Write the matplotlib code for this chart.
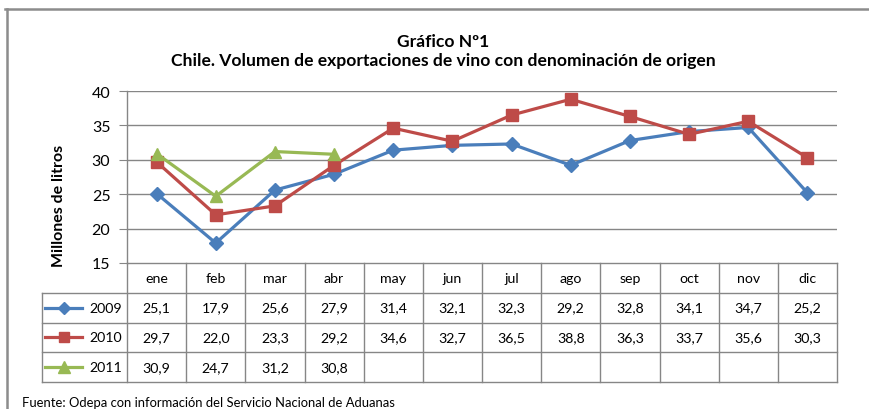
# Chile wine exports chart with Excel-style data table
import numpy as np
import matplotlib
matplotlib.use('Agg')
import matplotlib.pyplot as plt
from matplotlib.lines import Line2D

months = ['ene', 'feb', 'mar', 'abr', 'may', 'jun', 'jul', 'ago', 'sep', 'oct', 'nov', 'dic']
years = ['2009', '2010', '2011']
v2009 = [25.1, 17.9, 25.6, 27.9, 31.4, 32.1, 32.3, 29.2, 32.8, 34.1, 34.7, 25.2]
v2010 = [29.7, 22.0, 23.3, 29.2, 34.6, 32.7, 36.5, 38.8, 36.3, 33.7, 35.6, 30.3]
v2011 = [30.9, 24.7, 31.2, 30.8]
series = [v2009, v2010, v2011]

colors = ['#4A7EBB', '#BE4B48', '#98B954']
markers = ['D', 's', '^']
msizes = [7, 8, 9]
grid_col = '#868686'

plt.rcParams['font.family'] = ['Lato', 'DejaVu Sans']

W, H = 869, 410
fig = plt.figure(figsize=(W / 100, H / 100), dpi=100)

def fx(px):
    return px / W

def fy(py):
    return 1 - py / H

# pixel layout of plot area and table
left, right, top, bottom = 127, 837, 92, 264
tab_left, tab_bottom = 42, 383
colw = (right - left) / 12.0
legw = (left - tab_left) / colw

# outer frame (top and left only visible)
fig.add_artist(Line2D([fx(5), 1], [fy(10), fy(10)], color='#8c8c8c', lw=1.8))
fig.add_artist(Line2D([fx(7), fx(7)], [fy(10), 0], color='#8c8c8c', lw=1.8))

# main plot
ax = fig.add_axes((fx(left), fy(bottom), fx(right) - fx(left), fy(top) - fy(bottom)))
x = np.arange(len(months))
for vals, c, m, ms in zip(series, colors, markers, msizes):
    ax.plot(x[:len(vals)], vals, color=c, lw=2.3, marker=m, ms=ms,
            markerfacecolor=c, markeredgecolor=c, zorder=3)
ax.set_xlim(-0.5, 11.5)
ax.set_ylim(15, 40)
ax.set_yticks([15, 20, 25, 30, 35, 40])
ax.set_xticks([])
for y in [20, 25, 30, 35, 40]:
    ax.axhline(y, color=grid_col, lw=1, zorder=1)
for s in ['top', 'right']:
    ax.spines[s].set_visible(False)
for s in ['left', 'bottom']:
    ax.spines[s].set_color(grid_col)
    ax.spines[s].set_linewidth(1)
ax.tick_params(axis='y', direction='out', length=6, color=grid_col,
               labelsize=11.5, pad=6)
ax.set_facecolor('none')

# data table
tab = fig.add_axes((fx(tab_left), fy(tab_bottom), fx(right) - fx(tab_left),
                    fy(bottom) - fy(tab_bottom)))
tab.set_xlim(-0.5 - legw, 11.5)
tab.set_ylim(4, 0)
tab.axis('off')
x0 = -0.5 - legw
for r in range(1, 5):
    tab.plot([x0, 11.5], [r, r], color=grid_col, lw=1, clip_on=False)
for k in range(13):
    tab.plot([k - 0.5, k - 0.5], [0, 4], color=grid_col, lw=1, clip_on=False)
tab.plot([x0, x0], [1, 4], color=grid_col, lw=1, clip_on=False)

for i, mname in enumerate(months):
    tab.text(i, 0.5, mname, ha='center', va='center', fontsize=10.2)
for r, vals in enumerate(series):
    for i, v in enumerate(vals):
        tab.text(i, r + 1.5, ('%.1f' % v).replace('.', ','), ha='center',
                 va='center', fontsize=10.2)
    # legend key
    tab.plot([x0 + 0.05, x0 + 0.68], [r + 1.5, r + 1.5], color=colors[r], lw=2.3,
             clip_on=False)
    tab.plot([x0 + 0.365], [r + 1.5], color=colors[r], marker=markers[r],
             ms=msizes[r] - 1, clip_on=False)
    tab.text(-0.58, r + 1.5, years[r], ha='right', va='center', fontsize=10.2)

# titles and labels
fig.text(fx(443), fy(42), 'Gráfico Nº1', ha='center', va='center',
         fontsize=12.6, fontweight='bold')
fig.text(fx(443), fy(61), 'Chile. Volumen de exportaciones de vino con denominación de origen',
         ha='center', va='center', fontsize=12.6, fontweight='bold')
fig.text(fx(59), fy(206), 'Millones de litros', ha='center', va='center',
         rotation=90, fontsize=11.5, fontweight='bold')
fig.text(fx(22), fy(403), 'Fuente: Odepa con información del Servicio Nacional de Aduanas',
         ha='left', va='center', fontsize=9.4)

fig.savefig('out.png', dpi=100)
plt.close()
